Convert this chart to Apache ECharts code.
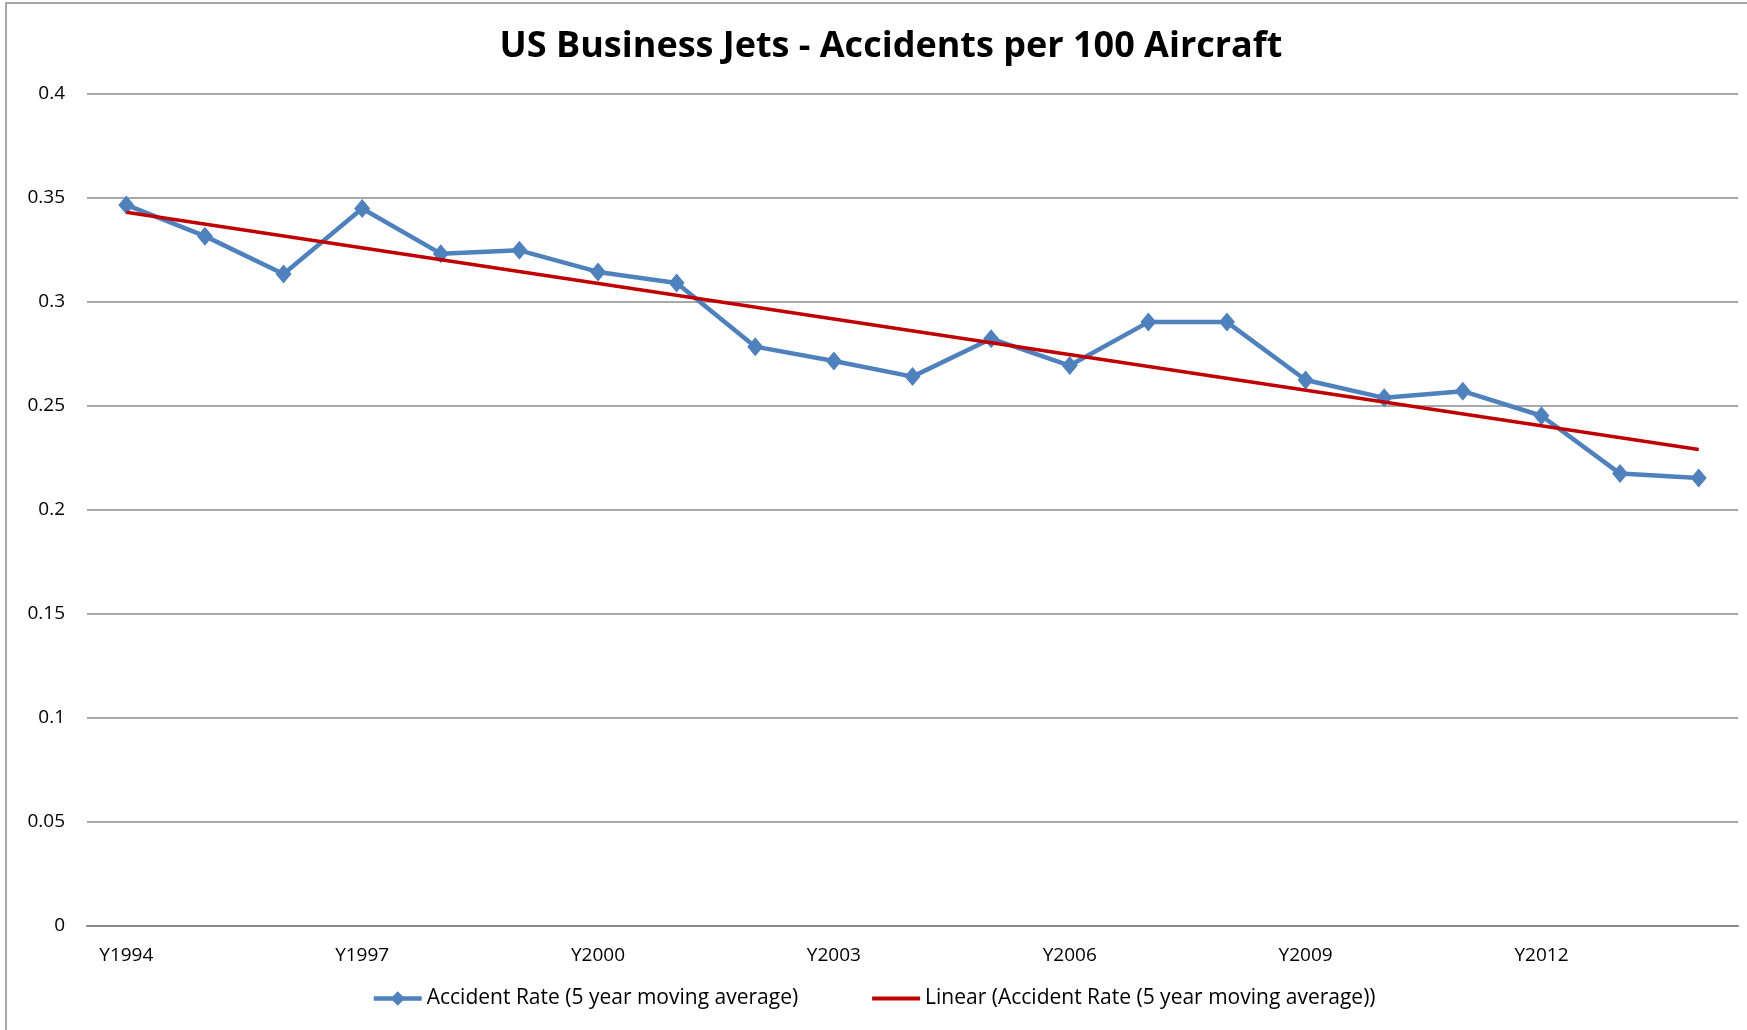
<!DOCTYPE html>
<html><head><meta charset="utf-8">
<script src="https://cdn.jsdelivr.net/npm/echarts@6/dist/echarts.min.js"></script>
<style>html,body{margin:0;padding:0;background:#fff}#c{width:1747px;height:1030px}</style>
</head><body><div id="c"></div>
<script>
const categories = ['Y1994','Y1995','Y1996','Y1997','Y1998','Y1999','Y2000','Y2001','Y2002','Y2003','Y2004','Y2005','Y2006','Y2007','Y2008','Y2009','Y2010','Y2011','Y2012','Y2013','Y2014'];
const accidentRate = [0.3465,0.3315,0.3133,0.3448,0.3231,0.3247,0.3143,0.3090,0.2784,0.2715,0.2640,0.2822,0.2693,0.2902,0.2902,0.2624,0.2538,0.2570,0.2452,0.2174,0.2153];
const trendStart = 0.343;
const trendEnd = 0.229;
const yTicks = [0,0.05,0.1,0.15,0.2,0.25,0.3,0.35,0.4];

const trendData = categories.map((c,i)=> i===0 ? trendStart : (i===categories.length-1 ? trendEnd : null));
const FONT = '"Open Sans", sans-serif';
const chart = echarts.init(document.getElementById('c'));
chart.setOption({
  animation:false,
  backgroundColor:'#fff',
  title:{text:'US Business Jets - Accidents per 100 Aircraft',left:886,top:24,textAlign:'center',
    textStyle:{fontFamily:'"Open Sans", sans-serif',fontWeight:'bold',fontSize:36,color:'#000'}},
  graphic:[{type:'rect',shape:{x:6,y:3,width:1760,height:1040},style:{fill:'none',stroke:'#8c8c8c',lineWidth:1.5},silent:true}],
  grid:{left:87,right:9,top:93.6,bottom:1030-926},
  legend:{bottom:16,left:'center',itemGap:74,itemWidth:48,itemHeight:18,
    textStyle:{fontFamily:FONT,fontSize:21,color:'#000'},
    data:[{name:'Accident Rate (5 year moving average)',lineStyle:{width:4.5}},
          {name:'Linear (Accident Rate (5 year moving average))',icon:'path://M0,0 L40,0 L40,3.2 L0,3.2 Z'}]},
  xAxis:{type:'category',data:categories,boundaryGap:true,
    axisLine:{lineStyle:{color:'#888',width:2}},axisTick:{show:false},
    axisLabel:{interval:2,margin:20,fontFamily:FONT,fontSize:19,color:'#000'}},
  yAxis:{type:'value',min:0,max:0.4,interval:0.05,
    axisLine:{show:false},axisTick:{show:false},
    axisLabel:{margin:22,fontFamily:FONT,fontSize:19,color:'#000',formatter:v=>String(+v.toFixed(2))},
    splitLine:{lineStyle:{color:'#8c8c8c',width:1.5}}},
  series:[
    {name:'Accident Rate (5 year moving average)',type:'line',data:accidentRate,
     symbol:'diamond',symbolSize:[16,19],color:'#4F81BD',lineStyle:{color:'#4F81BD',width:4.5},itemStyle:{color:'#4F81BD'},z:3},
    {name:'Linear (Accident Rate (5 year moving average))',type:'line',data:trendData,connectNulls:true,
     symbol:'none',color:'#C00000',lineStyle:{color:'#C00000',width:3.5},itemStyle:{color:'#C00000'},z:4}
  ]
});
</script></body></html>
